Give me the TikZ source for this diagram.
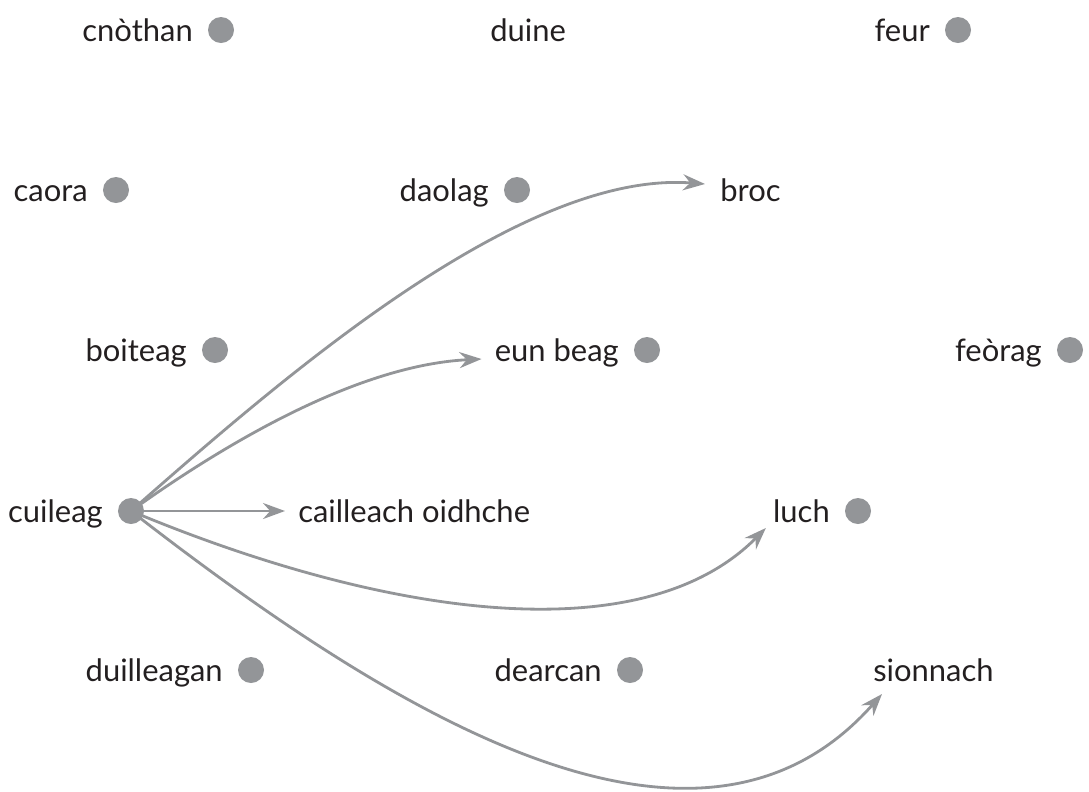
\documentclass[tikz,border=0pt]{standalone}
\usepackage{fontspec}
\setmainfont{Lato}
\usetikzlibrary{positioning,arrows.meta,calc}
\definecolor{dotgray}{HTML}{939598}
\definecolor{inkdark}{HTML}{231F20}

\tikzset{
  dot/.style={circle,fill=dotgray,inner sep=0pt,minimum size=0.65cm},
  lbl/.style={inner sep=0pt,font=\fontsize{22}{26}\selectfont,text=inkdark},
  link/.style={dotgray,line width=2pt,
    -{Stealth[length=0.55cm,width=0.4cm,inset=0.18cm]}}
}

\begin{document}
\begin{tikzpicture}[x=0.025cm,y=-0.025cm]
        \useasboundingbox (0,0) rectangle (1089,791);
        % words with a dot
        \foreach \n/\x/\y/\t in {cnothan/221/30/cnòthan, feur/958/30/feur,
            caora/116/190/caora, daolag/517/190/daolag,
            boiteag/215/350/boiteag, eunbeag/647/350/eun beag, feorag/1070/350/feòrag,
            cuileag/131/511/cuileag, luch/858/511/luch,
            duilleagan/251/670/duilleagan, dearcan/630/670/dearcan}{
          \node[lbl,anchor=base east] (\n-l) at (\x-28,\y+11) {\t};}
        % words without a dot
        \node[lbl,anchor=base west] (duine) at (490,41) {duine};
        \node[lbl,anchor=base west] (broc) at (720,201) {broc};
        \node[lbl,anchor=base west] (cailleach) at (298,522) {cailleach oidhche};
        \node[lbl,anchor=base west] (sionnach) at (873,681) {sionnach};
        % arrows out of cuileag
        \draw[link] (131,511) .. controls (280,380) and (520,170) .. ($(broc.base west)+(-15,-17)$);
        \draw[link] (131,511) .. controls (230,440) and (360,365) .. ($(eunbeag-l.base west)+(-13,-2)$);
        \draw[link] (131,511) -- ($(cailleach.base west)+(-13,-11)$);
        \draw[link] (131,511) .. controls (380,615) and (640,655) .. ($(luch-l.base west)+(-7,6)$);
        \draw[link] (131,511) .. controls (400,720) and (700,900) .. ($(sionnach.base west)+(9,13)$);
        \foreach \n/\x/\y in {cnothan/221/30, feur/958/30, caora/116/190, daolag/517/190,
            boiteag/215/350, eunbeag/647/350, feorag/1070/350, cuileag/131/511,
            luch/858/511, duilleagan/251/670, dearcan/630/670}{
          \node[dot] (\n) at (\x,\y) {};}
      \end{tikzpicture}
\end{document}
